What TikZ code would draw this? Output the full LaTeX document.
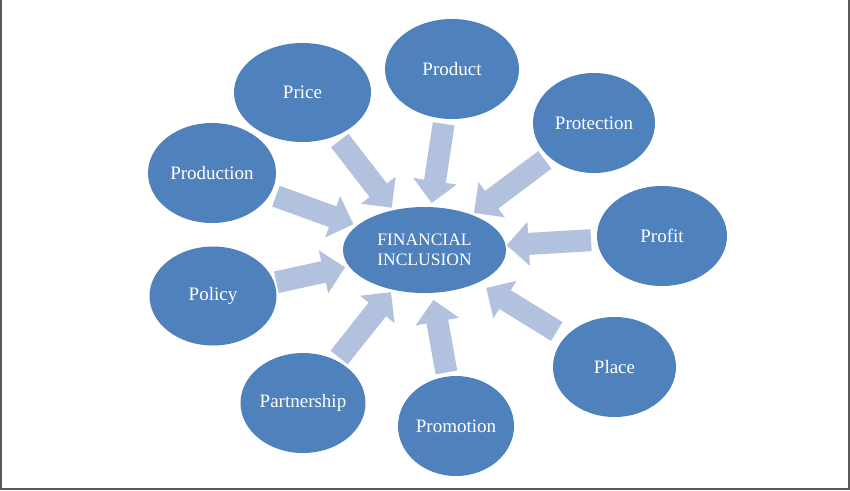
\documentclass[tikz,border=0pt]{standalone}
\usepackage{fontspec}
\setmainfont{Liberation Serif}
\usetikzlibrary{shapes.geometric,calc}
\definecolor{ovalblue}{RGB}{79,129,189}
\definecolor{arrowblue}{RGB}{178,194,222}
\definecolor{framegray}{RGB}{90,90,90}
\newcommand\fiarrow[4]{%
  \path (#1) -- coordinate[pos=0] (fa-s) coordinate[pos=1] (fa-e) (#2);
  \coordinate (fa-a) at ($(fa-s)!#3!(fa-e)$);
  \coordinate (fa-b) at ($(fa-e)!#4!(fa-s)$);
  \coordinate (fa-h) at ($(fa-b)!22pt!(fa-a)$);
  \fill[flowarrow]
    ($(fa-a)!11pt!90:(fa-b)$) -- ($(fa-h)!11pt!-90:(fa-a)$) --
    ($(fa-h)!22pt!-90:(fa-a)$) -- (fa-b) --
    ($(fa-h)!22pt!90:(fa-a)$) -- ($(fa-h)!11pt!90:(fa-a)$) --
    ($(fa-a)!11pt!-90:(fa-b)$) -- cycle;
}
\begin{document}
\begin{tikzpicture}[x=1pt,y=-1pt,
  oval/.style={ellipse, fill=ovalblue, text=white, inner sep=0pt,
    font=\fontsize{19}{21}\selectfont, align=center},
  hub/.style={oval, font=\fontsize{17.5}{20}\selectfont},
  flowarrow/.style={fill=arrowblue},
  frame/.style={draw=framegray, line width=2pt}]
\useasboundingbox (0,0) rectangle (850,490);
\fill[white] (0,0) rectangle (850,490);
\draw[frame] (1,0) -- (1,489) -- (849,489) -- (849,0);

\node[hub, minimum width=163pt, minimum height=86pt] (fi) at (424.5,250) {FINANCIAL\\INCLUSION};
\node[oval, minimum width=137pt, minimum height=99pt] (price) at (302.5,92.5) {Price};
\node[oval, minimum width=134pt, minimum height=100pt] (product) at (452,69) {Product};
\node[oval, minimum width=122pt, minimum height=100pt] (protection) at (594,123) {Protection};
\node[oval, minimum width=128pt, minimum height=100pt] (production) at (212,173) {Production};
\node[oval, minimum width=130pt, minimum height=100pt] (profit) at (662,236) {Profit};
\node[oval, minimum width=127pt, minimum height=99pt] (policy) at (213,296) {Policy};
\node[oval, minimum width=123pt, minimum height=100pt] (place) at (614.5,367) {Place};
\node[oval, minimum width=125pt, minimum height=100pt] (partnership) at (303,403) {Partnership};
\node[oval, minimum width=116pt, minimum height=100pt] (promotion) at (456,426) {Promotion};

\fiarrow{price}{fi}{6pt}{3pt}
\fiarrow{product}{fi}{5pt}{4pt}
\fiarrow{protection}{fi}{5pt}{3pt}
\fiarrow{production}{fi}{6pt}{4pt}
\fiarrow{profit}{fi}{6pt}{1pt}
\fiarrow{policy}{fi}{2pt}{4pt}
\fiarrow{partnership}{fi}{4pt}{3pt}
\fiarrow{promotion}{fi}{4pt}{7pt}
\fiarrow{place}{fi}{10pt}{10pt}
\end{tikzpicture}
\end{document}
